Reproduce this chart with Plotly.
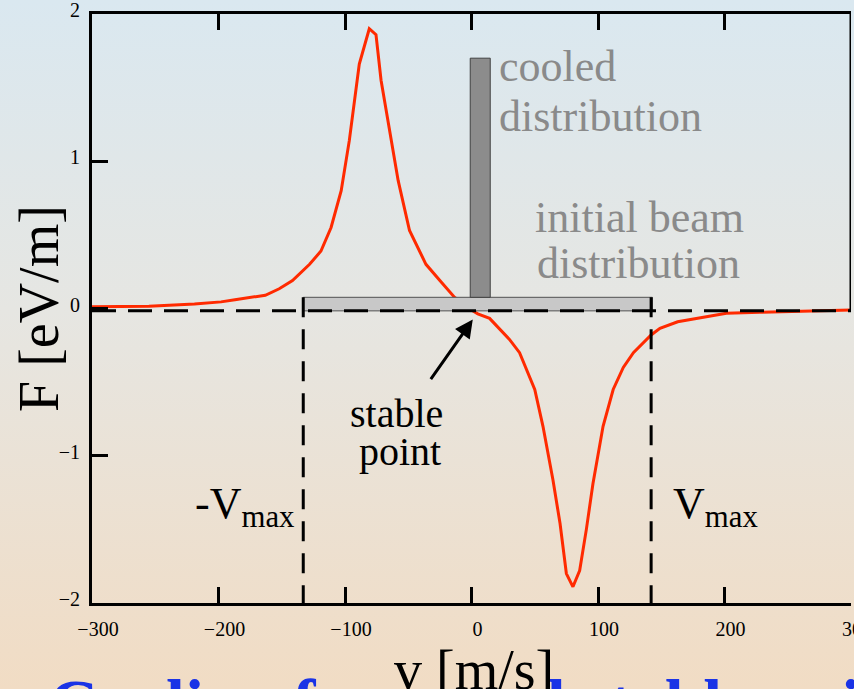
import base64
import plotly.graph_objects as go

# ---------------- data ----------------
v_ms = [-300, -255, -219, -198, -187, -163, -152, -141.5, -128, -119, -111, -103, -96.6,
        -88.7, -80.8, -75.5, -71.5, -65, -58, -49, -36, -25, -13.5, 0, 5, 14.3, 30, 38,
        46, 50, 56.5, 64.4, 70, 75, 80.2, 85.5, 90.8, 96, 104, 112, 120, 128, 142, 149,
        163, 188, 201.5, 228, 260, 300]
force_eVm = [0.012, 0.015, 0.03, 0.045, 0.06, 0.09, 0.134, 0.19, 0.30, 0.39, 0.55, 0.80,
             1.14, 1.66, 1.90, 1.86, 1.55, 1.21, 0.87, 0.53, 0.30, 0.19, 0.077, -0.01,
             -0.036, -0.067, -0.21, -0.30, -0.46, -0.55, -0.80, -1.165, -1.46, -1.80,
             -1.89, -1.78, -1.50, -1.19, -0.80, -0.55, -0.40, -0.30, -0.18, -0.135, -0.09,
             -0.051, -0.033, -0.026, -0.017, -0.01]

x_ticks = [-300, -200, -100, 0, 100, 200, 300]
x_tick_labels = ["\u2212300", "\u2212200", "\u2212100", "0", "100", "200", "300"]
y_ticks = [-2, -1, 0, 1, 2]
y_tick_labels = ["\u22122", "\u22121", "0", "1", "2"]

v_max_neg = -133
v_max_pos = 142
zero_level = -0.016
initial_beam = {"v0": -133, "v1": 143, "top": 0.076}
cooled_beam = {"v0": -1, "v1": 14.8, "top": 1.70}
arrow_head = (1, -0.075)
arrow_tail = (-33, -0.49)

# ---------------- layout helpers ----------------
W, H = 854, 689
L, R, T, B = 92, 3, 14, 86
PW, PH = W - L - R, H - T - B


def px(x):
    return (x - L) / PW


def py(y):
    return (H - B - y) / PH


SERIF = "Liberation Serif, Times New Roman, serif"

grad_svg = f"""<svg xmlns='http://www.w3.org/2000/svg' width='{W}' height='{H}' preserveAspectRatio='none'>
<defs><linearGradient id='g' x1='0' y1='0' x2='0' y2='1'>
<stop offset='0' stop-color='#dae8f0'/>
<stop offset='0.45' stop-color='#e6e6e2'/>
<stop offset='1' stop-color='#f1dcc4'/>
</linearGradient></defs>
<rect width='{W}' height='{H}' fill='url(#g)'/></svg>"""
grad_src = "data:image/svg+xml;base64," + base64.b64encode(grad_svg.encode()).decode()

fig = go.Figure()
fig.add_trace(go.Scatter(x=v_ms, y=force_eVm, mode="lines",
                         line=dict(color="#ff2a00", width=3), hoverinfo="skip",
                         showlegend=False))

shapes = []
# initial beam distribution
shapes.append(dict(type="rect", xref="x", yref="y", x0=initial_beam["v0"], x1=initial_beam["v1"],
                   y0=zero_level, y1=initial_beam["top"], fillcolor="#c8c8c8",
                   line=dict(color="#505050", width=1), layer="above"))
# cooled distribution
shapes.append(dict(type="rect", xref="x", yref="y", x0=cooled_beam["v0"], x1=cooled_beam["v1"],
                   y0=initial_beam["top"], y1=cooled_beam["top"], fillcolor="#8c8c8c",
                   line=dict(color="#404040", width=1), layer="above"))
# dashed zero line
shapes.append(dict(type="line", xref="x", yref="y", x0=-300, x1=300, y0=zero_level, y1=zero_level,
                   line=dict(color="black", width=3, dash="24px,12px"), layer="above"))
# dashed v_max lines
for vx in (v_max_neg, v_max_pos):
    shapes.append(dict(type="line", xref="x", yref="y", x0=vx, x1=vx, y0=initial_beam["top"], y1=-2,
                       line=dict(color="black", width=3, dash="20px,12px"), layer="above"))
# partial right frame
shapes.append(dict(type="line", xref="x", yref="y", x0=300, x1=300, y0=zero_level, y1=2,
                   line=dict(color="black", width=3), layer="above"))

annotations = []


def txt(text, x, y, size, color="black", xanchor="left", yanchor="middle", bold=False, angle=0):
    annotations.append(dict(text=("<b>%s</b>" % text) if bold else text, xref="paper", yref="paper",
                            x=px(x), y=py(y), xanchor=xanchor, yanchor=yanchor, showarrow=False,
                            textangle=angle, font=dict(family=SERIF, size=size, color=color)))


txt("cooled", 497, 67, 44, "#8a8a8a")
txt("distribution", 497, 117, 44, "#8a8a8a")
txt("initial beam", 533, 217, 44, "#8a8a8a")
txt("distribution", 535, 263, 44, "#8a8a8a")
txt("stable", 396, 413, 40, xanchor="center")
txt("point", 400, 451, 40, xanchor="center")
txt("-V<sub>max</sub>", 193, 506, 44)
txt("V<sub>max</sub>", 671, 506, 44)
txt("F [eV/m]", 39, 309, 56, xanchor="center", angle=-90)
txt("Cooling force and stable point", 47, 703, 68, "#1a33e6", bold=True)
txt("v [m/s]", 474, 670, 56, xanchor="center")

annotations.append(dict(x=arrow_head[0], y=arrow_head[1], ax=arrow_tail[0], ay=arrow_tail[1],
                        xref="x", yref="y", axref="x", ayref="y", text="", showarrow=True,
                        arrowhead=2, arrowsize=1.2, arrowwidth=3, arrowcolor="black"))

fig.update_layout(
    width=W, height=H,
    margin=dict(l=L, r=R, t=T, b=B, pad=0, autoexpand=False),
    paper_bgcolor="#e8e6e0",
    plot_bgcolor="rgba(0,0,0,0)",
    shapes=shapes,
    annotations=annotations,
    images=[dict(source=grad_src, xref="paper", yref="paper", x=px(0), y=py(0),
                 sizex=W / PW, sizey=H / PH, sizing="stretch", xanchor="left", yanchor="top",
                 layer="below")],
    xaxis=dict(range=[-300, 300], showgrid=False, zeroline=False, showline=True, linecolor="black",
               linewidth=3, mirror="ticks", ticks="inside", ticklen=16, tickwidth=3, tickcolor="black",
               tickvals=x_ticks, ticktext=x_tick_labels, ticklabelstandoff=6, ticklabelshift=6,
               ticklabeloverflow="allow", automargin=False,
               tickfont=dict(family=SERIF, size=20, color="black")),
    yaxis=dict(range=[-2, 2], showgrid=False, zeroline=False, showline=True, linecolor="black",
               linewidth=3, ticks="inside", ticklen=16, tickwidth=3, tickcolor="black",
               tickvals=y_ticks, ticktext=y_tick_labels, ticklabelstandoff=5, ticklabelshift=-4,
               ticklabeloverflow="allow", automargin=False,
               tickfont=dict(family=SERIF, size=20, color="black")),
)

fig.write_html("out.html", config={"displayModeBar": False},
               post_script="document.body.style.margin='0';document.body.style.overflow='hidden';")
